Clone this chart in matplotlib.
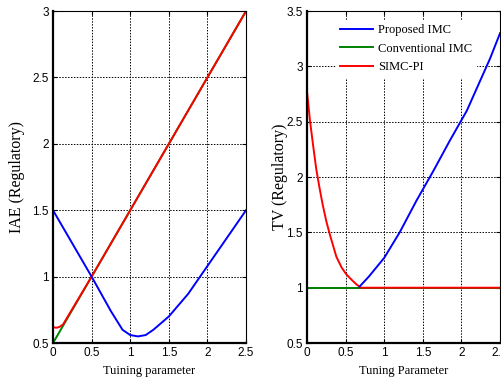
import numpy as np
import matplotlib.pyplot as plt
from matplotlib.ticker import FuncFormatter

# IAE (regulatory) panel
iae_prop_x = [0, 0.25, 0.5, 0.75, 0.9, 1.0, 1.1, 1.2, 1.3, 1.5, 1.75, 2.0, 2.25, 2.5]
iae_prop_y = [1.5, 1.25, 1.0, 0.74, 0.6, 0.56, 0.55, 0.56, 0.6, 0.7, 0.87, 1.08, 1.29, 1.5]
iae_conv_x = [0, 2.5]
iae_conv_y = [0.5, 3.0]
iae_simc_x = [0, 0.04, 0.08, 0.13, 0.5, 1.0, 1.5, 2.0, 2.5]
iae_simc_y = [0.62, 0.615, 0.62, 0.64, 1.0, 1.5, 2.0, 2.5, 3.0]

# TV (regulatory) panel
tv_prop_x = [0.68, 0.8, 1.0, 1.2, 1.42, 1.64, 1.85, 2.07, 2.37, 2.5]
tv_prop_y = [1.01, 1.1, 1.27, 1.5, 1.79, 2.06, 2.33, 2.6, 3.07, 3.3]
tv_conv_x = [0, 2.5]
tv_conv_y = [1.0, 1.0]
tv_simc_x = [0, 0.04, 0.08, 0.12, 0.16, 0.2, 0.25, 0.3, 0.38, 0.45, 0.51, 0.58, 0.64, 0.7, 2.5]
tv_simc_y = [2.77, 2.5, 2.28, 2.07, 1.91, 1.76, 1.6, 1.47, 1.28, 1.18, 1.12, 1.07, 1.03, 1.0, 1.0]

serif = 'Liberation Serif'
sans = 'Liberation Sans'

fig = plt.figure(figsize=(5.02, 3.82), dpi=100)
ax1 = fig.add_axes([0.1056, 0.102, 0.3845, 0.869])
ax2 = fig.add_axes([0.6116, 0.102, 0.3845, 0.869])

fmt = FuncFormatter(lambda v, p: '%g' % v)

def style(ax, ylim, yticks):
    ax.set_xlim(0, 2.5)
    ax.set_ylim(*ylim)
    ax.set_xticks(np.arange(0, 2.51, 0.5))
    ax.set_yticks(yticks)
    ax.xaxis.set_major_formatter(fmt)
    ax.yaxis.set_major_formatter(fmt)
    ax.grid(True, color='black', linestyle=(0, (1.5, 1.5)), linewidth=0.7)
    ax.tick_params(direction='in', top=True, right=True, length=3, labelsize=8.5, pad=3)
    for lab in ax.get_xticklabels() + ax.get_yticklabels():
        lab.set_fontfamily(sans)
    for s in ['left', 'bottom']:
        ax.spines[s].set_linewidth(1.6)
    for s in ['top', 'right']:
        ax.spines[s].set_linewidth(0.8)

lw = 1.4
ax1.plot(iae_conv_x, iae_conv_y, color='#008000', lw=lw)
ax1.plot(iae_simc_x, iae_simc_y, color='#ff0000', lw=lw)
ax1.plot(iae_prop_x, iae_prop_y, color='#0000ff', lw=lw)
style(ax1, (0.5, 3.0), np.arange(0.5, 3.01, 0.5))
ax1.set_xlabel('Tuining parameter', fontfamily=serif, fontsize=9, labelpad=4)
ax1.set_ylabel('IAE (Regulatory)', fontfamily=serif, fontsize=11.5, labelpad=5)

ax2.plot(tv_prop_x, tv_prop_y, color='#0000ff', lw=lw, label='Proposed IMC', zorder=4)
ax2.plot(tv_conv_x, tv_conv_y, color='#008000', lw=lw, label='Conventional IMC')
ax2.plot(tv_simc_x, tv_simc_y, color='#ff0000', lw=lw, label='SIMC-PI')
style(ax2, (0.5, 3.5), np.arange(0.5, 3.51, 0.5))
ax2.set_xlabel('Tuning Parameter', fontfamily=serif, fontsize=9, labelpad=4)
ax2.set_ylabel('TV (Regulatory)', fontfamily=serif, fontsize=11.5, labelpad=-1)
leg = ax2.legend(loc='upper left', bbox_to_anchor=(0.12, 0.99), frameon=True,
                 prop={'family': serif, 'size': 9}, handlelength=2.6,
                 borderpad=0.3, labelspacing=0.5, handletextpad=0.4)
leg.get_frame().set_edgecolor('white')
leg.get_frame().set_alpha(1)
leg.get_frame().set_boxstyle('square', pad=0)
leg.set_zorder(3)

fig.savefig('out.png', dpi=100)
